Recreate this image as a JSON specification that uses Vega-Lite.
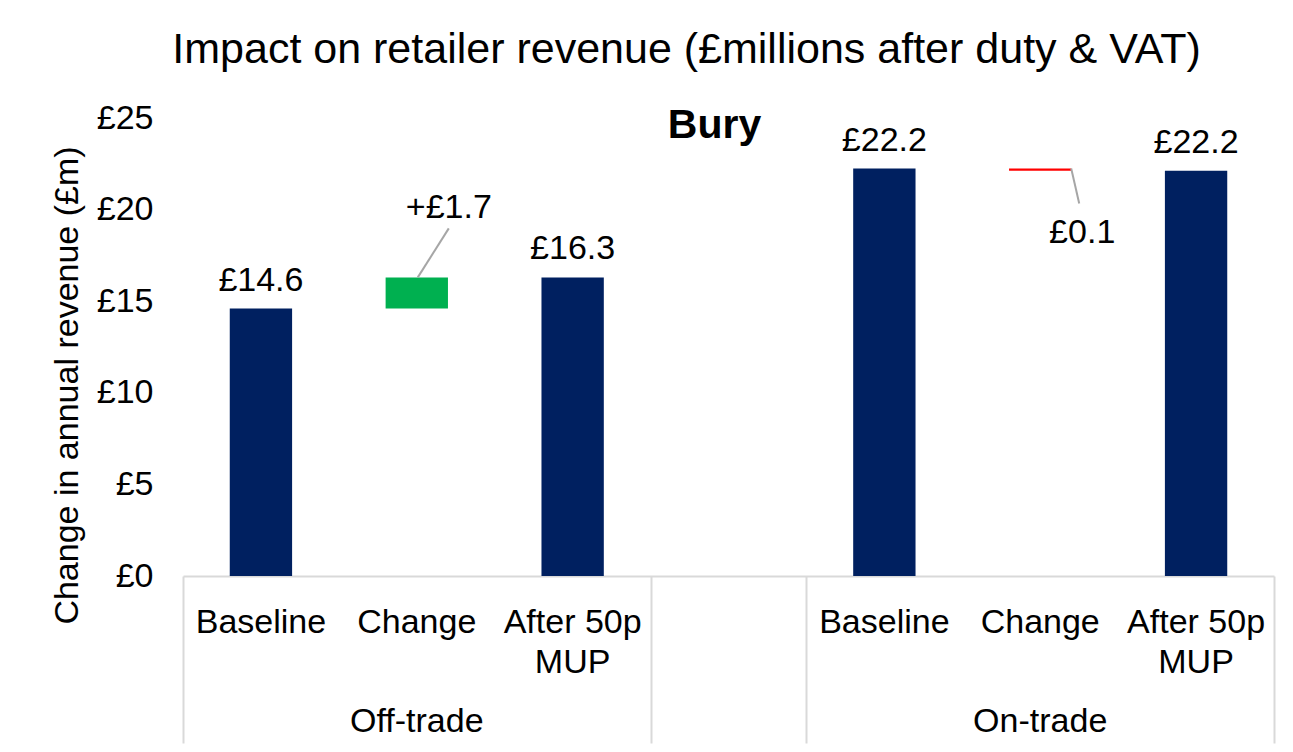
{
  "$schema": "https://vega.github.io/schema/vega-lite/v6.json",
  "width": 1091,
  "height": 458,
  "autosize": {"type": "none"},
  "padding": {"left": 183, "top": 118, "right": 19, "bottom": 176},
  "background": "white",
  "config": {
    "view": {"stroke": null},
    "font": "Liberation Sans",
    "text": {"font": "Liberation Sans"}
  },
  "title": {
    "text": "Impact on retailer revenue (£millions after duty & VAT)",
    "fontSize": 43,
    "fontWeight": "normal",
    "font": "Liberation Sans",
    "color": "#000000",
    "frame": "group",
    "anchor": "middle",
    "dx": -42,
    "offset": 29
  },
  "data": {
    "values": [
      {"cat": "Off-trade|Baseline", "start": 0, "end": 14.6, "type": "total", "label": "£14.6"},
      {"cat": "Off-trade|Change", "start": 14.6, "end": 16.3, "type": "up", "label": "+£1.7"},
      {"cat": "Off-trade|After 50p/MUP", "start": 0, "end": 16.3, "type": "total", "label": "£16.3"},
      {"cat": "On-trade|Baseline", "start": 0, "end": 22.24, "type": "total", "label": "£22.2"},
      {"cat": "On-trade|Change", "start": 22.24, "end": 22.12, "type": "down", "label": "£0.1"},
      {"cat": "On-trade|After 50p/MUP", "start": 0, "end": 22.12, "type": "total", "label": "£22.2"}
    ]
  },
  "resolve": {"axis": {"x": "independent"}},
  "layer": [
    {
      "mark": {"type": "bar", "width": {"band": 0.4}},
      "encoding": {
        "x": {
          "field": "cat",
          "type": "nominal",
          "scale": {
            "domain": ["Off-trade|Baseline", "Off-trade|Change", "Off-trade|After 50p/MUP", " | ", "On-trade|Baseline", "On-trade|Change", "On-trade|After 50p/MUP"],
            "paddingInner": 0,
            "paddingOuter": 0
          },
          "axis": {
            "orient": "bottom",
            "title": null,
            "labelExpr": "split(split(datum.value, '|')[1], '/')",
            "labelFont": "Liberation Sans",
            "labelFontSize": 34,
            "labelColor": "#000000",
            "labelPadding": 29,
            "labelLineHeight": 40,
            "labelAngle": 0,
            "labelBaseline": "top",
            "labelOverlap": false,
            "labelLimit": 0,
            "ticks": false,
            "tickSize": 0,
            "domain": true,
            "domainColor": "#D9D9D9",
            "domainWidth": 2,
            "grid": false
          }
        },
        "y": {
          "field": "start",
          "type": "quantitative",
          "scale": {"domain": [0, 25], "nice": false},
          "axis": {
            "orient": "left",
            "title": "Change in annual revenue (£m)",
            "values": [0, 5, 10, 15, 20, 25],
            "labelExpr": "'£' + datum.value",
            "labelFont": "Liberation Sans",
            "labelFontSize": 34,
            "labelColor": "#000000",
            "labelPadding": 30,
            "ticks": false,
            "tickSize": 0,
            "domain": false,
            "grid": false,
            "titleFont": "Liberation Sans",
            "titleFontSize": 34,
            "titleFontWeight": "normal",
            "titleColor": "#000000",
            "titleAngle": -90,
            "titleX": -106,
            "titleY": 267,
            "titleAlign": "center",
            "titleBaseline": "alphabetic"
          }
        },
        "y2": {"field": "end"},
        "color": {
          "field": "type",
          "type": "nominal",
          "scale": {"domain": ["total", "up", "down"], "range": ["#002060", "#00B050", "#FF0000"]},
          "legend": null
        }
      }
    },
    {
      "transform": [{"filter": "datum.type == 'total'"}],
      "mark": {"type": "text", "fontSize": 34, "color": "#000000", "baseline": "alphabetic", "dy": -18},
      "encoding": {
        "x": {
          "field": "cat",
          "type": "nominal",
          "axis": {
            "orient": "bottom",
            "title": null,
            "values": ["Off-trade|Change", "On-trade|Change"],
            "labelExpr": "split(datum.value, '|')[0]",
            "labelFont": "Liberation Sans",
            "labelFontSize": 34,
            "labelColor": "#000000",
            "labelPadding": 128,
            "labelAngle": 0,
            "labelBaseline": "top",
            "labelOverlap": false,
            "labelLimit": 0,
            "ticks": false,
            "tickSize": 0,
            "domain": false,
            "grid": false
          }
        },
        "y": {"field": "end", "type": "quantitative"},
        "text": {"field": "label"}
      }
    },
    {
      "transform": [{"filter": "datum.type == 'up'"}],
      "mark": {"type": "rule", "color": "#A6A6A6", "strokeWidth": 2, "xOffset": 1, "x2Offset": 32, "y2Offset": -49},
      "encoding": {
        "x": {
          "field": "cat",
          "type": "nominal",
          "axis": {
            "orient": "bottom",
            "title": null,
            "labels": false,
            "domain": false,
            "grid": false,
            "ticks": true,
            "tickBand": "extent",
            "tickSize": 167,
            "tickWidth": 2,
            "tickColor": {
              "condition": {
                "test": "!isValid(datum.value) || datum.value == 'Off-trade|After 50p/MUP' || datum.value == ' | ' || datum.value == 'On-trade|After 50p/MUP'",
                "value": "#D9D9D9"
              },
              "value": "transparent"
            }
          }
        },
        "x2": {"field": "cat"},
        "y": {"field": "end", "type": "quantitative"},
        "y2": {"field": "end"}
      }
    },
    {
      "transform": [{"filter": "datum.type == 'up'"}],
      "mark": {"type": "text", "fontSize": 34, "color": "#000000", "baseline": "alphabetic", "dx": 32, "dy": -59},
      "encoding": {
        "x": {"field": "cat", "type": "nominal", "axis": null},
        "y": {"field": "end", "type": "quantitative"},
        "text": {"field": "label"}
      }
    },
    {
      "transform": [{"filter": "datum.type == 'down'"}],
      "mark": {"type": "rule", "color": "#A6A6A6", "strokeWidth": 2, "xOffset": 31, "x2Offset": 39, "y2Offset": 35},
      "encoding": {
        "x": {"field": "cat", "type": "nominal", "axis": null},
        "x2": {"field": "cat"},
        "y": {"field": "start", "type": "quantitative"},
        "y2": {"field": "start"}
      }
    },
    {
      "transform": [{"filter": "datum.type == 'down'"}],
      "mark": {"type": "text", "fontSize": 34, "color": "#000000", "baseline": "alphabetic", "dx": 42, "dy": 74},
      "encoding": {
        "x": {"field": "cat", "type": "nominal", "axis": null},
        "y": {"field": "start", "type": "quantitative"},
        "text": {"field": "label"}
      }
    },
    {
      "data": {"values": [{"name": "Bury"}]},
      "mark": {"type": "text", "fontSize": 41, "fontWeight": "bold", "color": "#000000", "baseline": "alphabetic", "dx": -14, "dy": 20},
      "encoding": {
        "x": {"datum": " | ", "type": "nominal", "axis": null},
        "y": {"datum": 25, "type": "quantitative"},
        "text": {"field": "name"}
      }
    }
  ]
}
